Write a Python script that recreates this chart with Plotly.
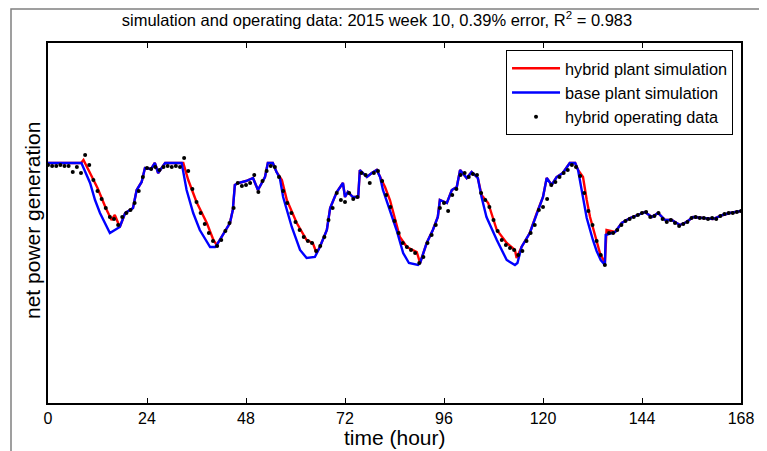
import plotly.graph_objects as go

# ---- data (arbitrary units of net power) ----
hybrid_t = [0, 8, 8.6, 10, 12, 14, 15.4, 16.2, 17.4, 18.7, 20.6, 21.5, 22.7, 23.5, 25, 25.9, 26.7, 28.4,
            32.8, 34, 36, 38.5, 40.1, 40.9, 42.1, 44.1, 44.8, 45.3, 46.1, 48, 49.7, 50.9, 52.6, 53.3, 54.5, 55.4,
            56.7, 57.9, 60.3, 62.7, 64.2, 65.1, 65.9, 67.6, 68.4, 70, 71.5, 72, 72.7, 73.9, 75.2, 75.6, 77.3, 78.5,
            79.7, 80.5, 81.7, 82.9, 84.5, 85.3, 87, 89.4, 90.2, 91.8, 93.3, 94.5, 95, 96.7, 97.9, 99.1, 99.9, 101.5,
            102.7, 104.2, 105.1, 106.7, 108.8, 111.2, 113.2, 113.6, 114.8, 116.8, 118.5, 120, 120.9, 122.1, 123.3,
            124.8, 126.5, 127.8, 128.5, 129.7, 130.6, 131.4, 133, 133.8, 135, 135.4, 137.5, 139.1, 141.1, 143,
            144.7, 146.4, 147.9, 149.6, 151.2, 153.2, 154.8, 156.4, 158.8, 161.2, 163.6, 165.3, 168]
hybrid_v = [240, 240, 243, 232, 215, 195, 183, 188, 176, 190, 195, 213, 221, 235, 234, 240, 230, 240,
            240, 223, 201, 180, 163, 158, 166, 180, 193, 218, 220, 222, 225, 213, 226, 240, 240, 231,
            223, 203, 180, 163, 160, 150, 156, 173, 195, 211, 220, 206, 211, 206, 206, 233, 226, 230,
            233, 226, 216, 203, 178, 166, 156, 151, 140, 160, 173, 186, 203, 200, 213, 216, 233, 225,
            231, 225, 208, 200, 173, 160, 153, 145, 156, 170, 190, 206, 225, 218, 226,
            230, 240, 240, 233, 226, 203, 186, 162, 150, 140, 173, 171, 180, 185, 188,
            191, 186, 190, 183, 183, 178, 181, 186, 185, 184, 188, 190, 192]

base_t = [0, 8.1, 10.2, 11.4, 12.6, 15, 17.4, 18.7, 20.6, 21.5, 22.7, 23.5, 25, 25.9, 26.7, 28.4,
          32.4, 33.6, 35.2, 36.8, 39.3, 40.5, 40.9, 42.1, 44.1, 44.8, 45.3, 46.1, 48, 49.7, 50.9, 52.6, 53.3,
          54.5, 55.4, 56.2, 57, 59.1, 61.1, 62.7, 64.7, 65.9, 67.6, 68.4, 70, 71.5, 72, 72.7, 73.9, 75.2, 75.6,
          77.3, 78.5, 79.7, 80.5, 81.2, 82.9, 84.5, 86.1, 87.5, 89.7, 90.2, 91.8, 93.3, 94.5, 95, 96.7, 97.9,
          99.1, 99.9, 101.5, 102.7, 104.2, 105.1, 106.3, 108.8, 111.2, 113.2, 113.8, 114.8, 116.8, 118.5, 120,
          120.9, 122.1, 123.3, 124.8, 126.5, 127.8, 128.5, 129.4, 130.6, 132.1, 133, 134, 135, 135.2, 137.5,
          139.1, 141.1, 143, 144.7, 146.4, 147.9, 149.6, 151.2, 153.2, 154.8, 156.4, 158.8, 161.2, 163.6,
          165.3, 168]
base_v = [240, 240, 220, 203, 190, 170, 176, 190, 195, 213, 221, 235, 234, 240, 230, 240,
          240, 213, 190, 173, 156, 156, 158, 166, 180, 193, 218, 220, 222, 225, 213, 226, 240,
          240, 231, 225, 206, 176, 153, 145, 146, 156, 173, 195, 211, 220, 206, 211, 206, 206, 233,
          226, 230, 233, 226, 213, 193, 173, 150, 140, 138, 140, 160, 173, 186, 203, 200, 213,
          216, 233, 225, 231, 225, 206, 186, 163, 143, 138, 140, 156, 170, 190, 206,
          225, 218, 226, 230, 240, 240, 233, 213, 185, 163, 152, 143, 138, 168, 171,
          180, 185, 188, 191, 186, 190, 183, 183, 178, 181, 186, 185, 184, 188,
          190, 192]

data_t = list(range(0, 169))
data_v = [238, 237, 237, 238, 237, 237, 231, 236, 230, 248,   # 0-9
          238, 223, 212, 204, 195, 186, 184, 178, 186, 190,   # 10-19
          193, 200, 212, 226, 235, 234, 236, 233, 236, 237,   # 20-29
          236, 237, 236, 245, 232, 214, 201, 190, 179, 170,   # 30-39
          162, 157, 163, 172, 180, 195, 220, 217, 218, 220,   # 40-49
          228, 211, 222, 232, 237, 236, 226, 212, 200, 190,   # 50-59
          181, 173, 166, 162, 160, 152, 157, 166, 183, 195,   # 60-69
          210, 203, 201, 210, 204, 206, 230, 228, 220, 230,   # 70-79
          232, 222, 208, 196, 182, 170, 160, 156, 153, 150,   # 80-89
          140, 146, 160, 168, 178, 195, 200, 192, 208, 214,   # 90-99
          228, 230, 226, 229, 228, 210, 203, 196, 183, 172,   # 100-109
          163, 158, 155, 153, 148, 152, 162, 170, 178, 193,   # 110-119
          196, 204, 218, 221, 226, 230, 233, 238, 236, 227,   # 120-129
          210, 192, 178, 162, 148, 138, 170, 170, 173, 178,   # 130-139
          182, 184, 186, 188, 190, 191, 186, 187, 190, 184,   # 140-149
          181, 183, 180, 177, 179, 181, 185, 186, 185, 185,   # 150-159
          184, 185, 184, 187, 189, 190, 190, 191, 192]        # 160-168

x_ticks = [0, 24, 48, 72, 96, 120, 144, 168]

FONT = "Liberation Sans, Arial, sans-serif"

# the page body has an 8px margin, so the figure is drawn 8px smaller and offset
W, H = 759, 443

fig = go.Figure()
fig.add_trace(go.Scatter(x=hybrid_t, y=hybrid_v, mode="lines", name="hybrid plant simulation",
                         line=dict(color="#ff0000", width=2.4)))
fig.add_trace(go.Scatter(x=base_t, y=base_v, mode="lines", name="base plant simulation",
                         line=dict(color="#0000ff", width=2.4)))
fig.add_trace(go.Scatter(x=data_t, y=data_v, mode="markers", name="hybrid operating data",
                         marker=dict(color="black", size=4)))

fig.update_layout(
    width=W, height=H,
    margin=dict(l=40, r=26, t=35, b=48),
    paper_bgcolor="white", plot_bgcolor="white",
    font=dict(family=FONT, size=16, color="black"),
    title=dict(text="simulation and operating data: 2015 week 10, 0.39% error, R<sup>2</sup> = 0.983",
               x=369 / W, xref="container", xanchor="center",
               y=1 - 12 / H, yref="container", yanchor="middle",
               font=dict(family=FONT, size=16.5, color="black")),
    showlegend=True,
    legend=dict(x=0.9885, y=0.98, xanchor="right", yanchor="top",
                bgcolor="white", bordercolor="black", borderwidth=1,
                font=dict(family=FONT, size=16.3, color="black"),
                tracegroupgap=0, itemwidth=48),
    xaxis=dict(range=[0, 168], tickvals=x_ticks, ticktext=[str(v) for v in x_ticks],
               ticks="inside", ticklen=5, tickcolor="black", tickwidth=1,
               showline=True, linecolor="black", linewidth=1.5, mirror="ticks",
               showgrid=False, zeroline=False,
               tickfont=dict(family=FONT, size=16, color="black")),
    yaxis=dict(range=[0, 360], showticklabels=False, ticks="",
               showline=True, linecolor="black", linewidth=1.5, mirror=True,
               showgrid=False, zeroline=False),
    annotations=[
        dict(text="time (hour)", xref="paper", yref="paper", x=0.5, y=(403 - 437) / 360,
             xanchor="center", yanchor="middle", showarrow=False,
             font=dict(family=FONT, size=21, color="black")),
        dict(text="net power generation", xref="paper", yref="paper", x=(33 - 48) / 693, y=0.5056,
             xanchor="center", yanchor="middle", showarrow=False, textangle=-90,
             font=dict(family=FONT, size=21, color="black")),
    ],
    shapes=[
        dict(type="rect", xref="paper", yref="paper",
             x0=(3 - 40) / 693, x1=(758 - 40) / 693, y0=(395 - 470) / 360, y1=(395 - 1) / 360,
             line=dict(color="#808080", width=1.5), fillcolor="rgba(0,0,0,0)", layer="below"),
    ],
)

fig.write_html("out.html")
